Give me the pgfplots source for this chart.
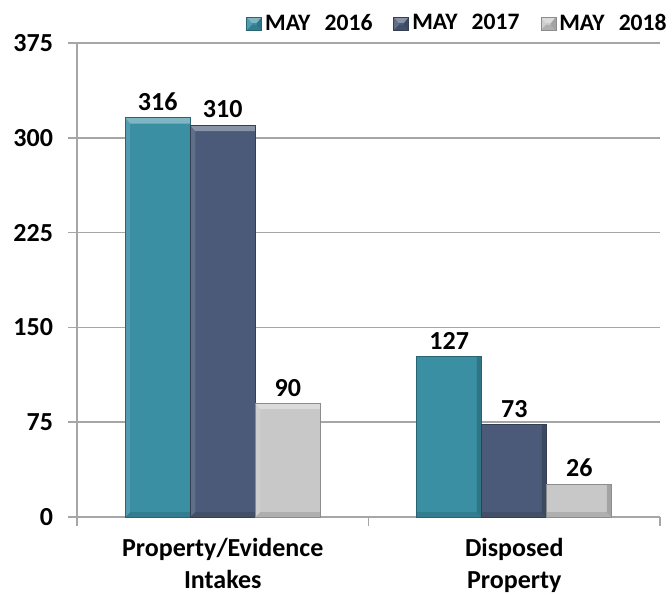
\documentclass[border=0pt]{standalone}
\usepackage{pgfplots}
\pgfplotsset{compat=1.18}
\usepackage{fontspec}
\setmainfont{Carlito}

\definecolor{may16}{HTML}{3A8FA3}
\definecolor{may17}{HTML}{4A5A78}
\definecolor{may18}{HTML}{C8C8C8}
\definecolor{gridgray}{HTML}{A6A6A6}

% bevel look of the bars (basic layer, so the inner paths do not pick up the path picture again)
\newcommand\bp[3]{\pgfpointadd{\pgfpointanchor{path picture bounding box}{#1}}{\pgfpoint{#2}{#3}}}
\newcommand\quadfill[6]{\begin{pgfscope}
  \pgfpathmoveto{#3}\pgfpathlineto{#4}\pgfpathlineto{#5}\pgfpathlineto{#6}\pgfpathclose
  \pgfsetfillcolor{#1}\pgfsetfillopacity{#2}\pgfusepath{fill}\end{pgfscope}}
\tikzset{bevel/.style={path picture={
  \quadfill{white}{0.35}{\bp{north west}{0pt}{0pt}}{\bp{north east}{0pt}{0pt}}{\bp{north east}{-2.5pt}{-3pt}}{\bp{north west}{2.5pt}{-3pt}}
  \quadfill{white}{0.12}{\bp{north west}{0pt}{0pt}}{\bp{north west}{2.5pt}{-3pt}}{\bp{south west}{2.5pt}{2.5pt}}{\bp{south west}{0pt}{0pt}}
  \quadfill{black}{0.18}{\bp{north east}{0pt}{0pt}}{\bp{north east}{-2.5pt}{-3pt}}{\bp{south east}{-2.5pt}{2.5pt}}{\bp{south east}{0pt}{0pt}}
  \quadfill{black}{0.12}{\bp{south west}{0pt}{0pt}}{\bp{south west}{2.5pt}{2.5pt}}{\bp{south east}{-2.5pt}{2.5pt}}{\bp{south east}{0pt}{0pt}}
}}}

\begin{document}
\begin{tikzpicture}
\path[use as bounding box] (-38.5pt,-38.5pt) rectangle (297.5pt,258.5pt);
\begin{axis}[
  scale only axis,
  width=291.5pt, height=237pt,
  ybar=0pt, bar width=32.5pt,
  xmin=-0.5, xmax=1.5,
  ymin=0, ymax=375,
  ytick={0,75,...,375},
  xtick={-0.5,0.5,1.5}, xticklabels={},
  extra x ticks={0,1},
  extra x tick labels={{Property/Evidence\\Intakes},{Disposed\\Property}},
  extra x tick style={major tick length=0pt,
    tick label style={align=center, font=\fontsize{13}{16}\selectfont\bfseries, yshift=-7pt}},
  y tick label style={font=\fontsize{13}{15}\selectfont\bfseries, xshift=-4pt},
  /pgf/number format/assume math mode=true,
  axis lines=left,
  axis line style={-, gridgray, line width=0.75pt},
  tick style={gridgray, line width=0.75pt},
  major tick length=4.5pt,
  tick align=outside,
  ymajorgrids,
  grid style={gridgray, line width=0.75pt},
  nodes near coords,
  every node near coord/.append style={font=\fontsize{13}{15}\selectfont\bfseries, black},
  legend style={at={(rel axis cs:1,1)}, anchor=east, xshift=5pt, yshift=9.75pt,
    draw=none, fill=none, inner sep=0pt, legend columns=3,
    nodes={inner xsep=1.5pt, inner ysep=2pt},
    font=\fontsize{11.8}{13}\selectfont\bfseries,
    /tikz/every even column/.append style={column sep=9pt}},
  legend image code/.code={\draw[#1] (0pt,-3.25pt) rectangle (7.5pt,3.25pt);},
]
\addplot[fill=may16, draw=may16!70!black, bevel] coordinates {(0,316) (1,127)};
\addplot[fill=may17, draw=may17!70!black, bevel] coordinates {(0,310) (1,73)};
\addplot[fill=may18, draw=may18!70!black, bevel] coordinates {(0,90) (1,26)};
\legend{MAY\hspace{0.6em}2016, MAY\hspace{0.6em}2017, MAY\hspace{0.6em}2018}
\end{axis}
\end{tikzpicture}
\end{document}
